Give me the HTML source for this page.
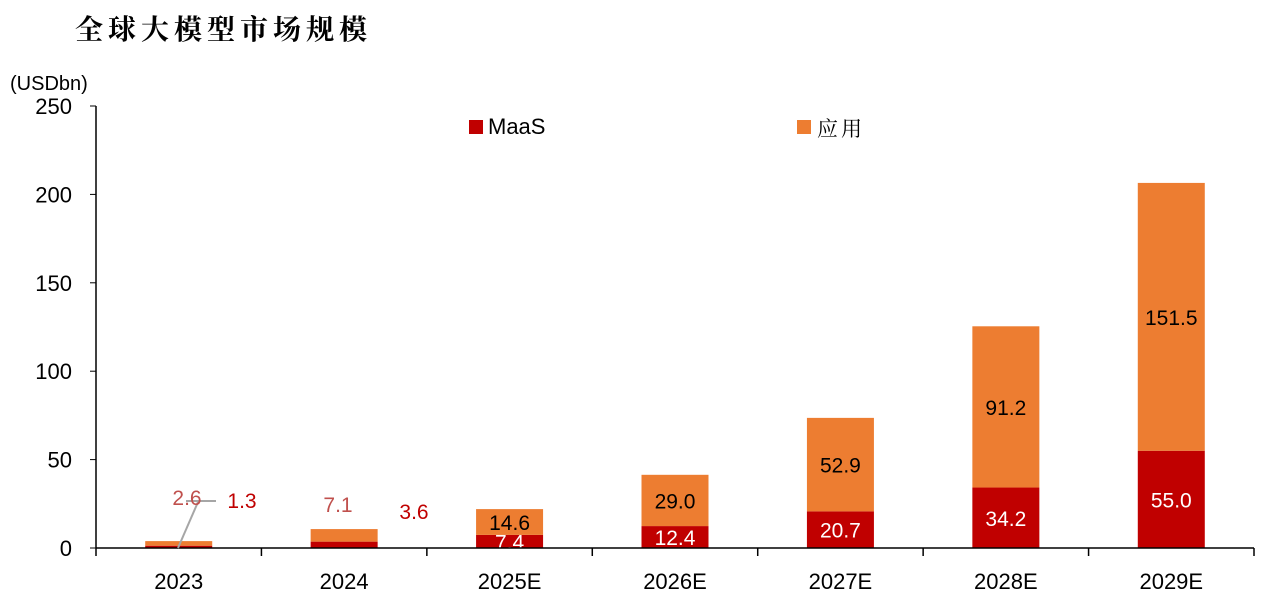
<!DOCTYPE html>
<html><head><meta charset="utf-8"><style>
body{margin:0;background:#fff;width:1261px;height:605px;overflow:hidden;font-family:"Liberation Sans","Noto Sans CJK SC",sans-serif}
</style></head><body>
<svg id="c" width="1261" height="605">
<text x="75" y="39" font-family="'Noto Serif CJK SC',serif" font-weight="bold" font-size="28" letter-spacing="5">全球大模型市场规模</text>
<text x="10" y="90" font-size="20">(USDbn)</text>
<g>
<rect x="469" y="120" width="14" height="14" fill="#c00000"/>
<text x="488" y="134" font-size="22">MaaS</text>
<rect x="797" y="120" width="14" height="14" fill="#ed7d31"/>
<text x="817" y="136" font-family="'Noto Serif CJK SC',serif" font-size="21" letter-spacing="3">应用</text>
</g>
<g id="g"></g>
<g>
<line x1="178" y1="548" x2="198" y2="502" stroke="#a6a6a6" stroke-width="2"/>
<line x1="186" y1="501" x2="216" y2="501" stroke="#a6a6a6" stroke-width="2"/>
<text x="187" y="505" font-size="21" fill="#c0504d" text-anchor="middle">2.6</text>
<text x="242" y="508" font-size="21" fill="#c00000" text-anchor="middle">1.3</text>
<text x="338" y="512" font-size="21" fill="#c0504d" text-anchor="middle">7.1</text>
<text x="414" y="519" font-size="21" fill="#c00000" text-anchor="middle">3.6</text>
</g>
</svg>
<script>
const categories=["2023","2024","2025E","2026E","2027E","2028E","2029E"];
const maas=[1.3,3.6,7.4,12.4,20.7,34.2,55.0];
const app=[2.6,7.1,14.6,29.0,52.9,91.2,151.5];
const yTicks=[0,50,100,150,200,250];
const NS="http://www.w3.org/2000/svg";
const g=document.getElementById('g');
const x0=96,x1=1254,yb=548,yt=106;
const band=(x1-x0)/categories.length;
const y=v=>yb-(v/250)*(yb-yt);
const cx=i=>x0+band*(i+0.5);
function mk(t,a){const e=document.createElementNS(NS,t);for(const k in a)e.setAttribute(k,a[k]);g.appendChild(e);return e;}
let e=mk('line',{x1:x0,y1:yt,x2:x0,y2:yb,stroke:'#000','stroke-width':1.5});


yTicks.forEach(v=>{
 let t=mk('line',{x1:x0-6,y1:y(v),x2:x0,y2:y(v),stroke:'#000'});
 
 
 let l=mk('text',{x:72,y:y(v)+8,'font-size':22,'text-anchor':'end'});l.textContent=v;
 
 
});
categories.forEach((c,i)=>{
 const w=67,bx=cx(i)-w/2;
 let r1=mk('rect',{x:bx,y:y(maas[i]),width:w,height:yb-y(maas[i]),fill:'#c00000'});
 
 
 let r2=mk('rect',{x:bx,y:y(maas[i]+app[i]),width:w,height:y(maas[i])-y(maas[i]+app[i]),fill:'#ed7d31'});
 
 
 if(i>=2){
  let a=mk('text',{x:cx(i),y:(y(maas[i])+y(maas[i]+app[i]))/2+8,'font-size':21,'text-anchor':'middle',fill:'#000'});a.textContent=app[i].toFixed(1);
  
  
  let m=mk('text',{x:cx(i),y:(yb+y(maas[i]))/2+8,'font-size':21,'text-anchor':'middle',fill:'#fff'});m.textContent=maas[i].toFixed(1);
  
  
 }
 let tk=mk('line',{x1:x0+band*i,y1:yb,x2:x0+band*i,y2:yb+8,stroke:'#000','stroke-width':1.5});
 
 
 let lb=mk('text',{x:cx(i),y:589,'font-size':22,'text-anchor':'middle'});lb.textContent=c;
 
 
});
let xa=mk('line',{x1:x0,y1:yb,x2:x1,y2:yb,stroke:'#000','stroke-width':1.5});


let lt=mk('line',{x1:x1,y1:yb,x2:x1,y2:yb+8,stroke:'#000','stroke-width':1.5});


</script>
</body></html>
